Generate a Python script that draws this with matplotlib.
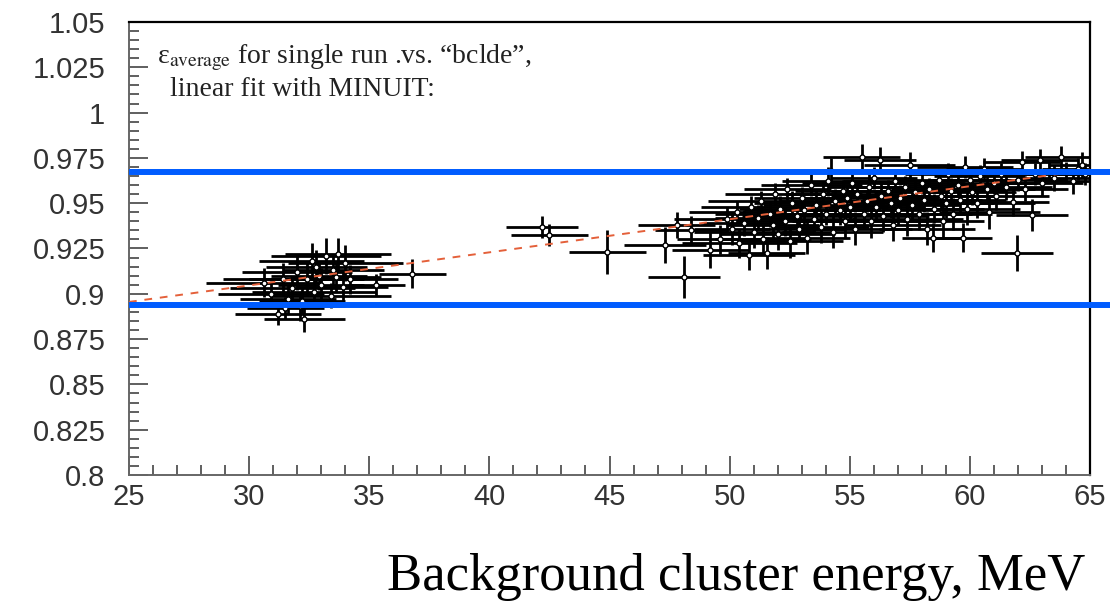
import matplotlib
matplotlib.use("Agg")
import matplotlib.pyplot as plt
from matplotlib.ticker import MultipleLocator, FixedLocator, FixedFormatter

# ---------------- data ----------------
# low-energy cluster
c1_x = [30.6, 30.9, 31.2, 31.4, 31.6, 31.8, 32.0, 32.1, 32.3, 32.4, 32.6, 32.7, 32.9, 33.0,
        33.2, 33.4, 33.5, 33.7, 33.9, 34.0, 34.2, 31.5, 32.2, 32.8, 33.6, 35.3, 36.8]
c1_y = [0.906, 0.900, 0.889, 0.908, 0.897, 0.903, 0.912, 0.893, 0.886, 0.908, 0.918, 0.901, 0.910, 0.905,
        0.921, 0.899, 0.913, 0.922, 0.904, 0.917, 0.908, 0.892, 0.896, 0.915, 0.909, 0.905, 0.911]
c1_xerr = [2.4, 2.2, 1.8, 2.5, 2.0, 2.6, 2.3, 1.9, 1.7, 2.4, 2.2, 2.6, 2.0, 1.8,
           2.3, 2.5, 2.1, 2.2, 1.9, 2.4, 2.0, 1.6, 1.8, 2.1, 1.9, 1.2, 1.4]
c1_yerr = [0.008, 0.007, 0.006, 0.009, 0.008, 0.007, 0.010, 0.008, 0.007, 0.009, 0.010, 0.007, 0.008, 0.009,
           0.010, 0.007, 0.008, 0.009, 0.008, 0.010, 0.008, 0.006, 0.007, 0.009, 0.008, 0.006, 0.008]

# intermediate points
c2_x = [42.2, 42.5, 44.9, 47.3, 47.8, 48.1, 49.2, 48.4]
c2_y = [0.937, 0.9325, 0.923, 0.927, 0.938, 0.9093, 0.924, 0.935]
c2_xerr = [1.5, 1.6, 1.6, 1.7, 1.6, 1.5, 1.6, 1.5]
c2_yerr = [0.006, 0.006, 0.012, 0.010, 0.007, 0.0115, 0.010, 0.008]

# high-energy band
c3_x = [49.6, 49.9, 50.1, 50.3, 50.4, 50.6, 50.8, 50.9, 51.0, 51.2, 51.3, 51.4, 51.55, 51.7, 51.8,
        51.9, 52.0, 52.1, 52.3, 52.4, 52.5, 52.6, 52.8, 52.9, 53.0, 53.1, 53.2, 53.4, 53.5, 53.6,
        53.8, 53.9, 54.0, 54.1, 54.2, 54.3, 54.4, 54.6, 54.7, 54.8, 54.9, 55.0, 55.1, 55.2, 55.3,
        55.5, 55.6, 55.7, 55.8, 55.9, 56.0, 56.1, 56.25, 56.3, 56.4, 56.6, 56.7, 56.8, 56.9, 57.0,
        57.1, 57.3, 57.4, 57.5, 57.6, 57.7, 57.9, 58.0, 58.1, 58.2, 58.3, 58.46, 58.5, 58.7, 58.8,
        58.9, 59.0, 59.1, 59.2, 59.3, 59.5, 59.6, 59.7, 59.8, 59.9, 60.0, 60.1, 60.3, 60.4, 60.6,
        60.7, 60.8, 61.0, 61.1, 61.3, 61.5, 61.8, 61.95, 62.0, 62.16, 62.3, 62.6, 62.7, 62.9, 63.0,
        63.3, 63.5, 63.8, 64.0, 64.3, 64.5, 64.66, 64.8]
c3_y = [0.930, 0.941, 0.936, 0.945, 0.928, 0.939, 0.9214, 0.948, 0.934, 0.942, 0.951, 0.930, 0.9225, 0.944, 0.938,
        0.955, 0.933, 0.947, 0.940, 0.958, 0.929, 0.950, 0.943, 0.936, 0.953, 0.946, 0.931, 0.960, 0.941, 0.949,
        0.937, 0.955, 0.944, 0.962, 0.968, 0.934, 0.951, 0.946, 0.957, 0.940, 0.953, 0.948, 0.961, 0.936, 0.955,
        0.9755, 0.944, 0.951, 0.959, 0.940, 0.964, 0.948, 0.974, 0.954, 0.943, 0.957, 0.950, 0.938, 0.962, 0.946,
        0.953, 0.959, 0.941, 0.971, 0.949, 0.956, 0.944, 0.961, 0.952, 0.936, 0.958, 0.931, 0.947, 0.963, 0.954,
        0.940, 0.950, 0.966, 0.957, 0.944, 0.960, 0.952, 0.931, 0.970, 0.947, 0.963, 0.956, 0.950, 0.965, 0.969,
        0.958, 0.945, 0.961, 0.954, 0.966, 0.959, 0.9507, 0.9225, 0.963, 0.9727, 0.958, 0.9435, 0.966, 0.9738, 0.961,
        0.968, 0.964, 0.9755, 0.967, 0.962, 0.969, 0.971, 0.966]
c3_xerr = [1.8, 2.2, 1.6, 2.0, 2.4, 1.7, 1.9, 2.1, 2.5, 1.8, 2.2, 2.0, 1.6, 2.3, 1.9,
           2.1, 2.4, 1.7, 2.0, 1.8, 2.2, 1.6, 2.3, 1.9, 2.0, 2.5, 1.8, 2.1, 1.7, 2.2,
           2.0, 1.6, 2.4, 1.9, 1.8, 2.1, 2.3, 1.7, 2.0, 2.2, 1.8, 1.6, 2.1, 2.4, 1.9,
           1.6, 2.0, 2.2, 1.7, 2.3, 1.8, 2.0, 1.5, 2.1, 1.9, 2.4, 1.7, 2.0, 2.2, 1.8,
           1.6, 2.1, 2.3, 1.9, 2.0, 1.7, 2.2, 1.8, 2.4, 2.0, 1.6, 1.3, 2.1, 1.9, 2.2,
           1.7, 2.0, 1.8, 2.3, 1.6, 2.1, 1.9, 1.2, 2.0, 2.2, 1.7, 1.8, 2.4, 1.9, 1.6,
           2.0, 2.1, 1.8, 2.2, 1.7, 1.9, 1.5, 1.5, 2.0, 1.6, 1.8, 1.5, 1.9, 1.6, 1.7,
           1.8, 1.6, 1.5, 1.7, 1.6, 1.5, 1.4, 1.5]
c3_yerr = [0.008, 0.007, 0.009, 0.006, 0.008, 0.007, 0.008, 0.006, 0.009, 0.007, 0.006, 0.008, 0.009, 0.007, 0.008,
           0.006, 0.009, 0.007, 0.008, 0.006, 0.009, 0.007, 0.008, 0.007, 0.006, 0.008, 0.009, 0.006, 0.007, 0.008,
           0.009, 0.007, 0.006, 0.008, 0.007, 0.009, 0.007, 0.008, 0.006, 0.009, 0.007, 0.008, 0.006, 0.009, 0.007,
           0.007, 0.008, 0.006, 0.007, 0.009, 0.006, 0.008, 0.007, 0.007, 0.009, 0.006, 0.008, 0.009, 0.006, 0.008,
           0.007, 0.006, 0.009, 0.007, 0.008, 0.007, 0.009, 0.006, 0.007, 0.009, 0.006, 0.008, 0.008, 0.006, 0.007,
           0.009, 0.008, 0.006, 0.007, 0.009, 0.006, 0.008, 0.008, 0.006, 0.009, 0.006, 0.007, 0.008, 0.006, 0.006,
           0.007, 0.009, 0.006, 0.008, 0.006, 0.007, 0.008, 0.010, 0.006, 0.006, 0.007, 0.009, 0.006, 0.006, 0.007,
           0.006, 0.007, 0.006, 0.006, 0.007, 0.006, 0.007, 0.006]

# linear fit (MINUIT)
fit_x = [25.0, 65.0]
fit_y = [0.8955, 0.9685]

# blue reference lines
band_levels = [0.8938, 0.9672]

x_ticks = [25, 30, 35, 40, 45, 50, 55, 60, 65]
x_ticklabels = ["25", "30", "35", "40", "45", "50", "55", "60", "65"]
y_ticks = [0.8, 0.825, 0.85, 0.875, 0.9, 0.925, 0.95, 0.975, 1.0, 1.025, 1.05]
y_ticklabels = ["0.8", "0.825", "0.85", "0.875", "0.9", "0.925", "0.95", "0.975", "1", "1.025", "1.05"]

# ---------------- figure ----------------
plt.rcParams["mathtext.fontset"] = "stix"
fig = plt.figure(figsize=(11.1, 6.04), dpi=100)
ax = fig.add_axes([0.1162, 0.2136, 0.8658, 0.75])

for xs, ys, xe, ye in [(c1_x, c1_y, c1_xerr, c1_yerr),
                       (c2_x, c2_y, c2_xerr, c2_yerr),
                       (c3_x, c3_y, c3_xerr, c3_yerr)]:
    ax.errorbar(xs, ys, xerr=xe, yerr=ye, fmt="o", ms=3.6, mfc="white", mec="black",
                mew=1.0, ecolor="black", elinewidth=2.0, capsize=0, zorder=2)

ax.plot(fit_x, fit_y, color="#e4603a", lw=1.4, ls=(0, (4, 4)), zorder=3)

for lev in band_levels:
    ax.plot([0, 1.03], [lev, lev], transform=ax.get_yaxis_transform(),
            color="#005cff", lw=4.3, clip_on=False, zorder=4, solid_capstyle="butt")

ax.set_xlim(25, 65)
ax.set_ylim(0.8, 1.05)
ax.xaxis.set_major_locator(FixedLocator(x_ticks))
ax.xaxis.set_major_formatter(FixedFormatter(x_ticklabels))
ax.xaxis.set_minor_locator(MultipleLocator(1))
ax.yaxis.set_major_locator(FixedLocator(y_ticks))
ax.yaxis.set_major_formatter(FixedFormatter(y_ticklabels))
ax.yaxis.set_minor_locator(MultipleLocator(0.005))

ax.tick_params(which="both", direction="in", top=False, right=False, color="#444444")
ax.tick_params(which="major", length=14, width=1.2)
ax.tick_params(which="minor", length=7, width=1.2)
ax.tick_params(axis="y", which="major", pad=17)
ax.tick_params(axis="x", which="major", pad=6)
for lab in ax.get_xticklabels() + ax.get_yticklabels():
    lab.set_fontfamily("Liberation Sans")
    lab.set_fontsize(21)
    lab.set_color("#333333")

for side in ["top", "right"]:
    ax.spines[side].set_color("black")
    ax.spines[side].set_linewidth(1.6)
for side in ["left", "bottom"]:
    ax.spines[side].set_color("#666666")
    ax.spines[side].set_linewidth(1.4)

fig.text(157 / 1110, 1 - 63 / 604,
         r"ε$_{\mathrm{average}}$ for single run .vs. “bclde”,",
         fontsize=20, family="Liberation Serif", color="#222222", va="baseline", ha="left")
fig.text(163 / 1110, 1 - 96 / 604, " linear fit with MINUIT:",
         fontsize=20, family="Liberation Serif", color="#222222", va="baseline", ha="left")

fig.text(1085 / 1110, 1 - 590 / 604, "Background cluster energy, MeV",
         fontsize=38, family="Liberation Serif", color="black", va="baseline", ha="right")

fig.savefig("out.png", dpi=100)
